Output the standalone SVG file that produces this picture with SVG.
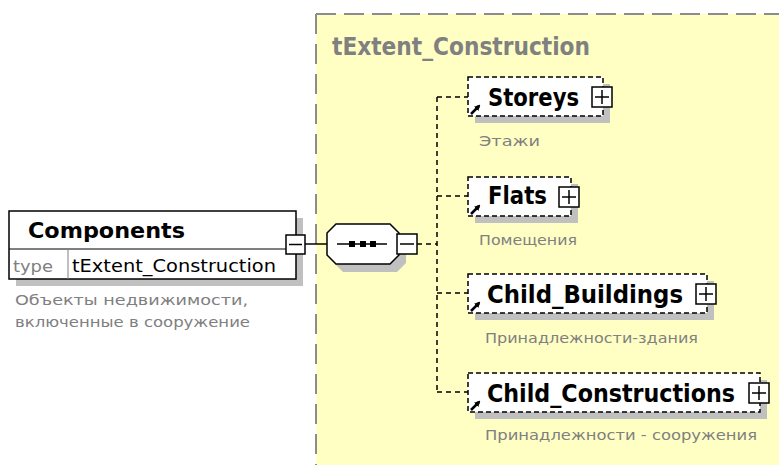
<svg xmlns="http://www.w3.org/2000/svg" width="779" height="465" viewBox="0 0 779 465">
<defs>
<style>
.bold{font-family:"DejaVu Sans","Liberation Sans",sans-serif;font-weight:bold;fill:#000}
.reg{font-family:"DejaVu Sans","Liberation Sans",sans-serif;fill:#000}
.desc{font-family:"DejaVu Sans","Liberation Sans",sans-serif;font-size:13.5px;fill:#808080}
.shadow{fill:#C0C0C0;stroke:none}
.elem{fill:#fff;stroke:#000;stroke-width:1.5;stroke-dasharray:5 3}
.solid{fill:#fff;stroke:#000;stroke-width:1.5}
.conn{fill:none;stroke:#000;stroke-width:1.5;stroke-dasharray:5 4}
.line{fill:none;stroke:#000;stroke-width:1.5}
</style>
<marker id="ah" viewBox="0 0 6 6" refX="4" refY="3" markerWidth="6" markerHeight="6" orient="auto" markerUnits="userSpaceOnUse">
<path d="M0,0 L6,3 L0,6 z" fill="#000"/>
</marker>
</defs>
<rect width="779" height="465" fill="#fff"/>
<g id="complexType">
<rect x="316" y="14" width="470" height="460" fill="#FFFFC4"/>
<path d="M316,14 H779" stroke="#8C8C8C" stroke-width="2" stroke-dasharray="20 8" fill="none"/>
<path d="M316,14 V465" stroke="#8C8C8C" stroke-width="2" stroke-dasharray="20 10" fill="none"/>
<text x="332" y="55" class="bold" font-size="24" style="fill:#808080" textLength="258" lengthAdjust="spacingAndGlyphs">tExtent_Construction</text>
</g>
<g id="connectors">
<line x1="305" y1="244" x2="327" y2="244" class="line"/>
<line x1="417" y1="244" x2="437" y2="244" class="conn"/>
<path d="M437,97 V392" class="conn"/>
<line x1="437" y1="97" x2="468" y2="97" class="conn"/>
<line x1="437" y1="196" x2="468" y2="196" class="conn"/>
<line x1="437" y1="293" x2="468" y2="293" class="conn"/>
<line x1="437" y1="392" x2="468" y2="392" class="conn"/>
</g>
<g id="Components">
<rect x="16" y="218" width="287" height="68" class="shadow"/>
<rect x="9" y="211" width="287" height="68" class="solid"/>
<line x1="9" y1="249" x2="296" y2="249" stroke="#000" stroke-width="1"/>
<line x1="68" y1="249" x2="68" y2="279" stroke="#808080" stroke-width="1"/>
<text x="28" y="238" class="bold" font-size="21" textLength="157" lengthAdjust="spacingAndGlyphs">Components</text>
<text x="13" y="272" class="reg" font-size="16" style="fill:#808080" textLength="40" lengthAdjust="spacingAndGlyphs">type</text>
<text x="72" y="272" class="reg" font-size="17" textLength="204" lengthAdjust="spacingAndGlyphs">tExtent_Construction</text>
<rect x="286" y="235" width="19" height="19" class="solid"/>
<line x1="289" y1="244.5" x2="302" y2="244.5" stroke="#000" stroke-width="1.5"/>
<text x="15" y="305" class="desc" textLength="233" lengthAdjust="spacingAndGlyphs">Объекты недвижимости,</text>
<text x="15" y="327" class="desc" textLength="235" lengthAdjust="spacingAndGlyphs">включенные в сооружение</text>
</g>
<g id="sequence">
<polygon points="343,232 397,232 406,241 406,263 397,272 343,272 334,263 334,241" class="shadow"/>
<polygon points="336,224 390,224 399,233 399,255 390,264 336,264 327,255 327,233" class="solid"/>
<line x1="337" y1="244" x2="387" y2="244" stroke="#000" stroke-width="1.5"/>
<rect x="349" y="241" width="6" height="6" fill="#000"/>
<rect x="360" y="241" width="6" height="6" fill="#000"/>
<rect x="370" y="241" width="6" height="6" fill="#000"/>
<rect x="397" y="234" width="20" height="20" class="solid"/>
<line x1="400" y1="244" x2="414" y2="244" stroke="#000" stroke-width="1.5"/>
</g>
<g id="Storeys">
<rect x="475" y="84" width="135" height="39" class="shadow"/>
<rect x="468" y="77" width="135" height="39" class="elem"/>
<text x="488" y="106" class="bold" font-size="24" textLength="91" lengthAdjust="spacingAndGlyphs">Storeys</text>
<rect x="592" y="87" width="20" height="20" class="solid"/>
<path d="M595,97 H609 M602,90 V104" stroke="#000" stroke-width="1.5"/>
<line x1="471" y1="114" x2="479" y2="106" stroke="#000" stroke-width="2.5" marker-end="url(#ah)"/>
<text x="479" y="146" class="desc" textLength="61" lengthAdjust="spacingAndGlyphs">Этажи</text>
</g>
<g id="Flats">
<rect x="475" y="184" width="103" height="39" class="shadow"/>
<rect x="468" y="177" width="103" height="39" class="elem"/>
<text x="488" y="204" class="bold" font-size="24" textLength="59" lengthAdjust="spacingAndGlyphs">Flats</text>
<rect x="559" y="187" width="20" height="20" class="solid"/>
<path d="M562,197 H576 M569,190 V204" stroke="#000" stroke-width="1.5"/>
<line x1="471" y1="214" x2="479" y2="206" stroke="#000" stroke-width="2.5" marker-end="url(#ah)"/>
<text x="479" y="245" class="desc" textLength="98" lengthAdjust="spacingAndGlyphs">Помещения</text>
</g>
<g id="Child_Buildings">
<rect x="475" y="281" width="239" height="39" class="shadow"/>
<rect x="468" y="274" width="239" height="39" class="elem"/>
<text x="487" y="303" class="bold" font-size="24" textLength="196" lengthAdjust="spacingAndGlyphs">Child_Buildings</text>
<rect x="696" y="284" width="20" height="20" class="solid"/>
<path d="M699,294 H713 M706,287 V301" stroke="#000" stroke-width="1.5"/>
<line x1="471" y1="311" x2="479" y2="303" stroke="#000" stroke-width="2.5" marker-end="url(#ah)"/>
<text x="485" y="343" class="desc" textLength="213" lengthAdjust="spacingAndGlyphs">Принадлежности-здания</text>
</g>
<g id="Child_Constructions">
<rect x="475" y="380" width="292" height="39" class="shadow"/>
<rect x="468" y="373" width="292" height="39" class="elem"/>
<text x="487" y="402" class="bold" font-size="24" textLength="248" lengthAdjust="spacingAndGlyphs">Child_Constructions</text>
<rect x="749" y="383" width="20" height="20" class="solid"/>
<path d="M752,393 H766 M759,386 V400" stroke="#000" stroke-width="1.5"/>
<line x1="471" y1="410" x2="479" y2="402" stroke="#000" stroke-width="2.5" marker-end="url(#ah)"/>
<text x="485" y="440" class="desc" textLength="272" lengthAdjust="spacingAndGlyphs">Принадлежности - сооружения</text>
</g>
</svg>
